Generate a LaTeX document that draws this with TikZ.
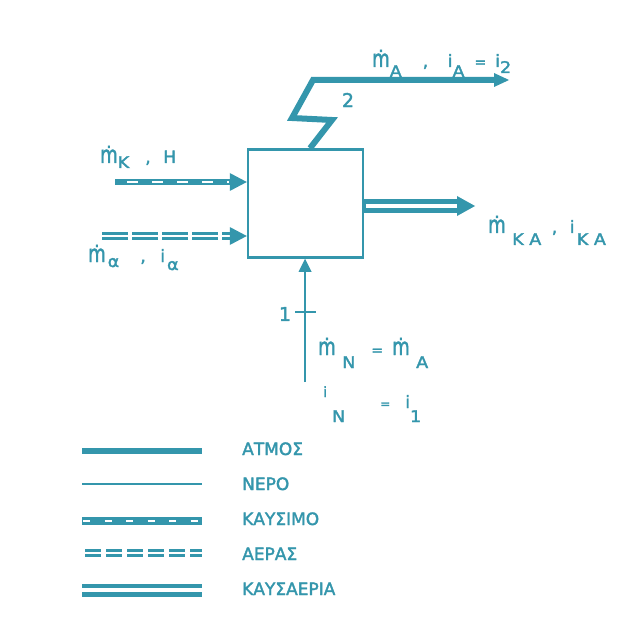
\documentclass[tikz,border=0pt]{standalone}
\usepackage{fontspec}
\setmainfont{DejaVu Sans}[FakeBold=2]
\usepackage{graphicx}
\usetikzlibrary{calc}
\definecolor{tl}{RGB}{52,150,172}
\newcommand\mdt{\mbox{\ooalign{\scalebox{0.9}[1.2]{\fontsize{20}{20}\selectfont m}\cr\hidewidth\raisebox{15pt}{\fontsize{17}{17}\selectfont.}\hidewidth\cr}}}
\newcommand\sbs[2][5pt]{\raisebox{-#1}{\fontsize{16}{16}\selectfont\scalebox{1.1}[1]{#2}}}
\newcommand\eqs[1][14]{{\fontsize{#1}{#1}\selectfont =}}
\tikzset{
 lbl/.style={text=tl, font=\fontsize{17}{17}\selectfont, inner sep=0pt, anchor=base west},
 numlbl/.style={text=tl, font=\fontsize{19}{19}\selectfont, inner sep=0pt},
 procbox/.style={draw=tl, line width=2.5pt, minimum width=115pt, minimum height=108pt, inner sep=0pt},
 steamline/.style={draw=tl, line width=6pt},
 waterline/.style={draw=tl, line width=2.5pt},
 fuelouter/.style={draw=tl, line width=6.5pt},
 fuelinner/.style={draw=white, line width=2pt},
 airouter/.style={draw=tl, line width=7.5pt},
 airinner/.style={draw=white, line width=2pt},
 flueouter/.style={draw=tl, line width=13pt},
 flueinner/.style={draw=white, line width=4.5pt},
 head/.style={fill=tl},
}
\begin{document}
\begin{tikzpicture}[x=1pt,y=-1pt]
\fill[white] (0,0) rectangle (636,628);
\useasboundingbox (0,0) rectangle (636,628);

\node[procbox] (box) at (305.5,203.5) {};

% fuel in
\coordinate (fs) at (115,182);
\coordinate (fe) at (box.west |- fs);
\draw[fuelouter] (fs) -- ($(fe)+(-16,0)$);
\draw[fuelinner, dash pattern=on 11pt off 14pt, dash phase=13pt] (fs) -- ($(fe)+(-18,0)$);
\fill[head] (fe) -- ++(-17,-9) -- ++(0,18) -- cycle;

% air in
\coordinate (as) at (102,236);
\coordinate (ae) at (box.west |- as);
\draw[airouter, dash pattern=on 26pt off 4pt] (as) -- ($(ae)+(-16,0)$);
\draw[airinner] (as) -- ($(ae)+(-16,0)$);
\fill[head] (ae) -- ++(-17,-9) -- ++(0,18) -- cycle;

% steam out
\coordinate (s0) at ([xshift=4.5pt]box.north);
\coordinate (z1) at (332,120);
\coordinate (z2) at (292,118);
\coordinate (z3) at (313,80);
\coordinate (se) at (509,80);
\draw[steamline] (s0) -- (z1) -- (z2) -- (z3) -- ($(se)+(-14,0)$);
\fill[head] (se) -- ++(-15,-7) -- ++(0,14) -- cycle;

% flue gas out
\coordinate (xe) at (475,206);
\coordinate (xs) at (box.east |- xe);
\draw[flueouter] (xs) -- ($(xe)+(-17,0)$);
\draw[flueinner] ($(xs)+(1.5,0)$) -- ($(xe)+(-17,0)$);
\fill[head] (xe) -- ++(-18,-10) -- ++(0,20) -- cycle;

% water in
\coordinate (ws) at (305,382);
\coordinate (we) at (box.south -| ws);
\draw[waterline] (ws) -- ($(we)+(0,12)$);
\fill[head] (we) -- ++(-6.5,13) -- ++(13,0) -- cycle;
\coordinate (tk) at (305,312);
\draw[tl, line width=1.5pt] ($(tk)+(-10,0)$) -- ($(tk)+(11,0)$);

% labels
\node[lbl] (lk) at (100,163) {\mdt\sbs[5pt]{Κ}\hspace{16pt},\hspace{12.6pt}Η};
\node[lbl] (la) at (88,262) {\mdt\hspace{2pt}\sbs[5pt]{α}\hspace{21pt},\hspace{14.6pt}i\hspace{2pt}\sbs[8pt]{α}};
\node[lbl] (lA) at (372,67) {\mdt\sbs[10pt]{Α}\hspace{21pt},\hspace{19.6pt}i\sbs[10pt]{Α}\hspace{10pt}\eqs\hspace{9pt}i\sbs[6pt]{2}};
\node[lbl] (lKA) at (488,233) {\mdt\hspace{6.5pt}\sbs[12pt]{Κ\hspace{5pt}Α}\hspace{10.5pt},\hspace{12.6pt}i\hspace{2.3pt}\sbs[12pt]{Κ\hspace{5pt}Α}};
\node[lbl] (lN) at (318,355) {\mdt\hspace{6.5pt}\sbs[13pt]{Ν}\hspace{16pt}\eqs\hspace{9pt}\mdt\hspace{6.5pt}\sbs[13pt]{Α}};
\node[lbl] (liN) at (323,408) {\raisebox{11pt}{\fontsize{14}{14}\selectfont i}\hspace{5pt}\sbs[14pt]{Ν}\hspace{35pt}\eqs[12]\hspace{15pt}i\sbs[14pt]{1}};
\node[numlbl] (n2) at (348,100) {2};
\node[numlbl] (n1) at (285,314) {1};

% legend
\coordinate (l1a) at (82,451); \coordinate (l1b) at (202,451);
\draw[steamline] (l1a) -- (l1b);
\node[lbl] (t1) at (242,455) {ΑΤΜΟΣ};

\coordinate (l2a) at (82,484); \coordinate (l2b) at (202,484);
\draw[waterline] (l2a) -- (l2b);
\node[lbl] (t2) at (242,490) {ΝΕΡΟ};

\coordinate (l3a) at (82,521); \coordinate (l3b) at (202,521);
\draw[fuelouter, line width=7.5pt] (l3a) -- (l3b);
\draw[fuelinner, dash pattern=on 7pt off 14.5pt] ($(l3a)+(1,0)$) -- (l3b);
\node[lbl] (t3) at (242,525) {ΚΑΥΣΙΜΟ};

\coordinate (l4a) at (82,553); \coordinate (l4b) at (202,553);
\draw[airouter, dash pattern=on 16pt off 5pt] ($(l4a)+(3,0)$) -- (l4b);
\draw[airinner] (l4a) -- (l4b);
\node[lbl] (t4) at (242,560) {ΑΕΡΑΣ};

\coordinate (l5a) at (82,590); \coordinate (l5b) at (202,590);
\draw[flueouter] (l5a) -- (l5b);
\draw[flueinner] (l5a) -- (l5b);
\node[lbl] (t5) at (242,595) {ΚΑΥΣΑΕΡΙΑ};
\end{tikzpicture}
\end{document}
